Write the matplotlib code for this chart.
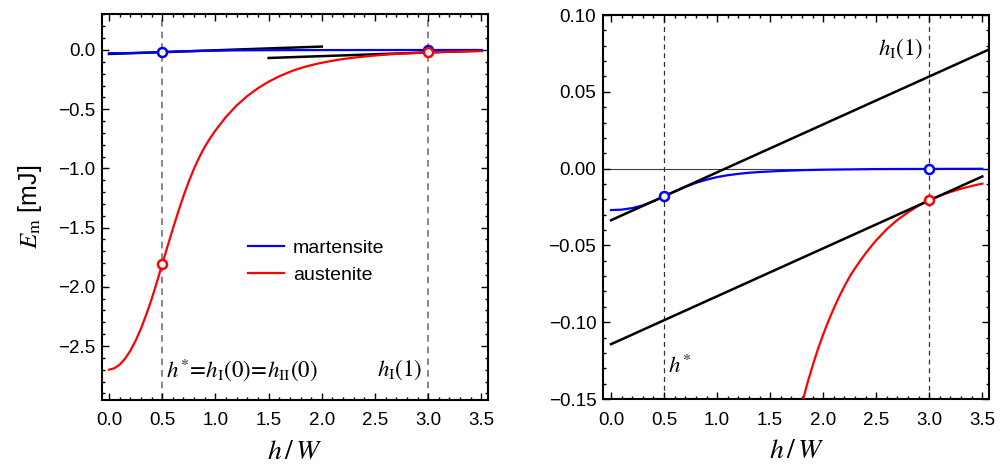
import matplotlib
matplotlib.use("Agg")
import matplotlib.pyplot as plt
from matplotlib.ticker import MultipleLocator, FuncFormatter

plt.rcParams['font.family'] = ['Liberation Sans', 'DejaVu Sans']
plt.rcParams['mathtext.fontset'] = 'stix'

# austenite energy vs h/W
hRed = [0.0, 0.05, 0.10, 0.15, 0.20, 0.25, 0.30, 0.35, 0.40, 0.45, 0.50,
        0.55, 0.60, 0.65, 0.70, 0.75, 0.80, 0.85, 0.90, 0.95, 1.00,
        1.10, 1.20, 1.30, 1.40, 1.50, 1.60, 1.70, 1.75, 1.80, 1.85, 1.90,
        1.95, 2.00, 2.05, 2.10, 2.15, 2.20, 2.25, 2.30, 2.35, 2.40, 2.45,
        2.50, 2.60, 2.70, 2.80, 2.90, 3.00, 3.10, 3.20, 3.30, 3.40, 3.50]
eRed = [-2.700, -2.688, -2.658, -2.608, -2.540, -2.455, -2.353, -2.235, -2.105, -1.961, -1.808,
        -1.658, -1.510, -1.368, -1.233, -1.110, -1.000, -0.903, -0.818, -0.745, -0.680,
        -0.5643, -0.4683, -0.3887, -0.3226, -0.2677, -0.2222, -0.1844, -0.1680, -0.1530, -0.1400, -0.1284,
        -0.1176, -0.1080, -0.0991, -0.0910, -0.0835, -0.0766, -0.0703, -0.0649, -0.0599, -0.0552, -0.0508,
        -0.0467, -0.0394, -0.0334, -0.0284, -0.0241, -0.0205, -0.0176, -0.0152, -0.0131, -0.0113, -0.0098]

# martensite energy vs h/W
hBlue = [0.0, 0.1, 0.2, 0.3, 0.4, 0.5, 0.6, 0.7, 0.8, 0.9, 1.0,
         1.1, 1.2, 1.3, 1.4, 1.6, 1.8, 2.0, 2.25, 2.5, 3.0, 3.5]
eBlue = [-0.0270, -0.0267, -0.0257, -0.0239, -0.0213, -0.0181, -0.0149, -0.0119, -0.0093, -0.0072, -0.0055,
         -0.0043, -0.0034, -0.0027, -0.0022, -0.0015, -0.0010, -0.0007, -0.0005, -0.0003, -0.0002, -0.0001]

# common tangent construction
hTanUpper = [0.0, 3.6]
eTanUpper = [-0.0336, 0.0787]
hTanLower = [0.0, 3.5]
eTanLower = [-0.1143, -0.0051]
hTanUpperShort = [0.0, 2.0]
eTanUpperShort = [-0.0336, 0.0288]
hTanLowerShort = [1.5, 3.5]
eTanLowerShort = [-0.0675, -0.0051]

hStar = 0.5
hOne = 3.0
eBlueMarks = [-0.0181, -0.0002]
eRedMarks = [-1.808, -0.0205]


def fmt(decimals):
    def f(v, pos):
        if abs(v) < 1e-9:
            v = 0.0
        return f'{v:.{decimals}f}'.replace('-', '\u2212')
    return FuncFormatter(f)


fig = plt.figure(figsize=(10, 4.68), dpi=100)
axL = fig.add_axes([0.102, 0.1453, 0.386, 0.8248])
axR = fig.add_axes([0.6033, 0.1474, 0.386, 0.8205])

# left panel: full curves
axL.axvline(hStar, color='0.45', lw=1.2, ls=(0, (4, 3)), zorder=1)
axL.axvline(hOne, color='0.45', lw=1.2, ls=(0, (4, 3)), zorder=1)
axL.plot(hTanUpperShort, eTanUpperShort, color='black', lw=1.8, zorder=2)
axL.plot(hTanLowerShort, eTanLowerShort, color='black', lw=1.8, zorder=2)
axL.plot(hBlue, eBlue, color='blue', lw=1.6, label='martensite', zorder=3)
axL.plot(hRed, eRed, color='red', lw=1.6, label='austenite', zorder=3)
axL.plot([hStar, hOne], eBlueMarks, ls='none', marker='o', ms=6.5, mew=1.8,
         mec='blue', mfc='white', zorder=5)
axL.plot([hStar, hOne], eRedMarks, ls='none', marker='o', ms=6.5, mew=1.8,
         mec='red', mfc='white', zorder=5)
axL.set_xlim(-0.066, 3.562)
axL.set_ylim(-2.956, 0.304)
axL.text(0.535, -2.70, r'$h^{*}\!=\!h_{\mathrm{I}}(0)\!=\!h_{\mathrm{II}}(0)$',
         fontsize=16.5, va='center', ha='left')
axL.text(2.945, -2.70, r'$h_{\mathrm{I}}(1)$', fontsize=16.5, va='center', ha='right')
axL.legend(loc='center left', bbox_to_anchor=(0.358, 0.359), frameon=False,
           fontsize=14, handlelength=1.85, handletextpad=0.46, labelspacing=0.5,
           borderaxespad=0)
axL.set_ylabel(r'$E_{\mathrm{m}}$ [mJ]', fontsize=18, labelpad=10)
axL.yaxis.set_major_locator(MultipleLocator(0.5))
axL.yaxis.set_minor_locator(MultipleLocator(0.1))
axL.yaxis.set_major_formatter(fmt(1))

# right panel: zoom near zero
axR.axhline(0.0, color='0.25', lw=0.8, zorder=1)
axR.axvline(hStar, color='0.2', lw=0.9, ls=(0, (4, 3)), zorder=1)
axR.axvline(hOne, color='0.2', lw=0.9, ls=(0, (4, 3)), zorder=1)
axR.plot(hBlue, eBlue, color='blue', lw=1.6, zorder=3)
axR.plot(hRed, eRed, color='red', lw=1.6, zorder=3)
axR.plot(hTanUpper, eTanUpper, color='black', lw=1.8, zorder=4)
axR.plot(hTanLower, eTanLower, color='black', lw=1.8, zorder=4)
axR.plot([hStar, hOne], eBlueMarks, ls='none', marker='o', ms=6.5, mew=1.8,
         mec='blue', mfc='white', zorder=5)
axR.plot([hOne], eRedMarks[1:], ls='none', marker='o', ms=6.5, mew=1.8,
         mec='red', mfc='white', zorder=5)
axR.set_xlim(-0.073, 3.566)
axR.set_ylim(-0.15, 0.10)
axR.text(2.945, 0.078, r'$h_{\mathrm{I}}(1)$', fontsize=16.5, va='center', ha='right')
axR.text(0.54, -0.129, r'$h^{*}$', fontsize=16.5, va='center', ha='left')
axR.yaxis.set_major_locator(MultipleLocator(0.05))
axR.yaxis.set_minor_locator(MultipleLocator(0.01))
axR.yaxis.set_major_formatter(fmt(2))

for ax in (axL, axR):
    ax.xaxis.set_major_locator(MultipleLocator(0.5))
    ax.xaxis.set_minor_locator(MultipleLocator(0.1))
    ax.xaxis.set_major_formatter(fmt(1))
    ax.tick_params(which='both', direction='in', top=True, right=True,
                   width=1.0, labelsize=13.5)
    ax.tick_params(axis='x', which='major', pad=9)
    ax.tick_params(axis='y', which='major', pad=5)
    ax.tick_params(which='major', length=5)
    ax.tick_params(which='minor', length=2.5)
    for s in ax.spines.values():
        s.set_linewidth(1.5)
    ax.set_xlabel(r'$h\,/\,W$', fontsize=20, labelpad=7)

plt.savefig('out.png', dpi=100)
